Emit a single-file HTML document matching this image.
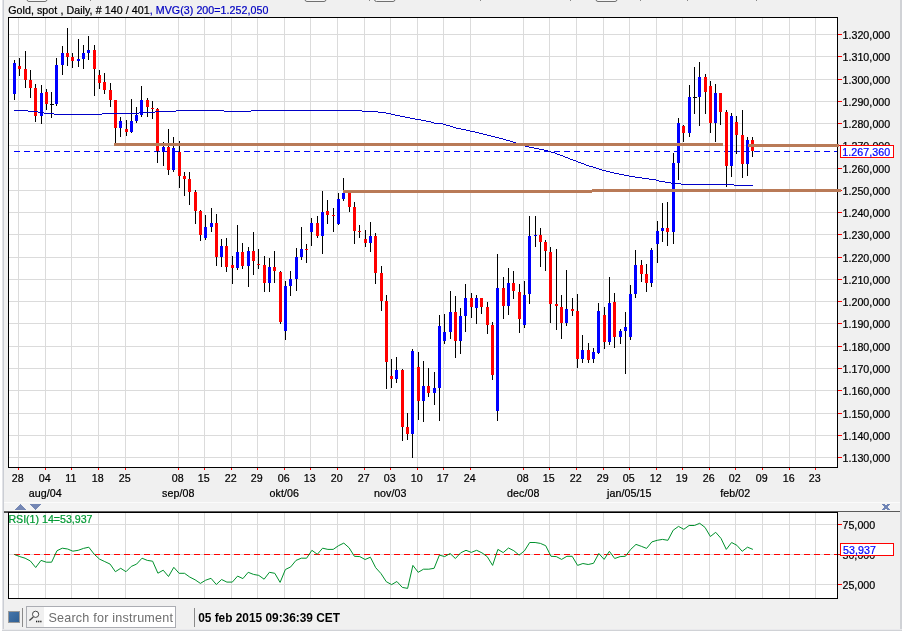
<!DOCTYPE html><html><head><meta charset="utf-8"><title>Gold, spot</title>
<style>
html,body{margin:0;padding:0;background:#fff;}
body{width:907px;height:637px;overflow:hidden;position:relative;font-family:"Liberation Sans",sans-serif;}
svg{position:absolute;left:0;top:0;will-change:transform;}
text{font-family:"Liberation Sans",sans-serif;}
.ax{font-size:10.67px;fill:#000;letter-spacing:0.06px;stroke:#000;stroke-width:0.22px;}
</style></head><body>
<svg width="907" height="637" viewBox="0 0 907 637">
<rect x="2" y="0" width="900" height="631" fill="#f0f0f0"/>
<rect x="2" y="0" width="1" height="631" fill="#e2e3e7"/>
<rect x="3" y="0" width="1" height="631" fill="#cbced4"/>
<rect x="900" y="0" width="2" height="631" fill="#d0d2d6"/>
<rect x="2" y="629" width="900" height="1" fill="#e9e9ec"/>
<rect x="2" y="630" width="900" height="1" fill="#d0d2d6"/>
<rect x="27" y="-3" width="20" height="4.5" rx="2" ry="2" fill="#f4f4f4" stroke="#707070" stroke-width="1"/>
<rect x="305" y="-3" width="21" height="4.5" rx="2" ry="2" fill="#f4f4f4" stroke="#707070" stroke-width="1"/>
<rect x="374.5" y="-3" width="20.5" height="4.5" rx="2" ry="2" fill="#f4f4f4" stroke="#707070" stroke-width="1"/>
<rect x="596" y="-3" width="21" height="4.5" rx="2" ry="2" fill="#f4f4f4" stroke="#707070" stroke-width="1"/>
<rect x="90" y="0" width="1" height="1" fill="#888"/>
<rect x="369" y="0" width="1" height="1" fill="#888"/>
<rect x="480" y="0" width="1" height="1" fill="#888"/>
<rect x="570" y="0" width="1" height="1" fill="#888"/>
<rect x="640" y="0" width="1" height="1" fill="#888"/>
<rect x="687" y="0" width="1" height="1" fill="#888"/>
<rect x="756" y="0" width="1" height="1" fill="#888"/>
<g shape-rendering="crispEdges">
<rect x="8" y="17" width="830" height="451" fill="#fff"/>
<rect x="18" y="18" width="1" height="449" fill="#dbdbdb"/>
<rect x="45" y="18" width="1" height="449" fill="#dbdbdb"/>
<rect x="71" y="18" width="1" height="449" fill="#dbdbdb"/>
<rect x="98" y="18" width="1" height="449" fill="#dbdbdb"/>
<rect x="125" y="18" width="1" height="449" fill="#dbdbdb"/>
<rect x="178" y="18" width="1" height="449" fill="#dbdbdb"/>
<rect x="204" y="18" width="1" height="449" fill="#dbdbdb"/>
<rect x="231" y="18" width="1" height="449" fill="#dbdbdb"/>
<rect x="257" y="18" width="1" height="449" fill="#dbdbdb"/>
<rect x="284" y="18" width="1" height="449" fill="#dbdbdb"/>
<rect x="310" y="18" width="1" height="449" fill="#dbdbdb"/>
<rect x="337" y="18" width="1" height="449" fill="#dbdbdb"/>
<rect x="364" y="18" width="1" height="449" fill="#dbdbdb"/>
<rect x="390" y="18" width="1" height="449" fill="#dbdbdb"/>
<rect x="417" y="18" width="1" height="449" fill="#dbdbdb"/>
<rect x="443" y="18" width="1" height="449" fill="#dbdbdb"/>
<rect x="470" y="18" width="1" height="449" fill="#dbdbdb"/>
<rect x="523" y="18" width="1" height="449" fill="#dbdbdb"/>
<rect x="549" y="18" width="1" height="449" fill="#dbdbdb"/>
<rect x="576" y="18" width="1" height="449" fill="#dbdbdb"/>
<rect x="603" y="18" width="1" height="449" fill="#dbdbdb"/>
<rect x="629" y="18" width="1" height="449" fill="#dbdbdb"/>
<rect x="656" y="18" width="1" height="449" fill="#dbdbdb"/>
<rect x="682" y="18" width="1" height="449" fill="#dbdbdb"/>
<rect x="709" y="18" width="1" height="449" fill="#dbdbdb"/>
<rect x="735" y="18" width="1" height="449" fill="#dbdbdb"/>
<rect x="762" y="18" width="1" height="449" fill="#dbdbdb"/>
<rect x="789" y="18" width="1" height="449" fill="#dbdbdb"/>
<rect x="815" y="18" width="1" height="449" fill="#dbdbdb"/>
<rect x="9" y="34" width="828" height="1" fill="#dbdbdb"/>
<rect x="9" y="56" width="828" height="1" fill="#dbdbdb"/>
<rect x="9" y="79" width="828" height="1" fill="#dbdbdb"/>
<rect x="9" y="101" width="828" height="1" fill="#dbdbdb"/>
<rect x="9" y="123" width="828" height="1" fill="#dbdbdb"/>
<rect x="9" y="145" width="828" height="1" fill="#dbdbdb"/>
<rect x="9" y="168" width="828" height="1" fill="#dbdbdb"/>
<rect x="9" y="190" width="828" height="1" fill="#dbdbdb"/>
<rect x="9" y="212" width="828" height="1" fill="#dbdbdb"/>
<rect x="9" y="234" width="828" height="1" fill="#dbdbdb"/>
<rect x="9" y="257" width="828" height="1" fill="#dbdbdb"/>
<rect x="9" y="279" width="828" height="1" fill="#dbdbdb"/>
<rect x="9" y="301" width="828" height="1" fill="#dbdbdb"/>
<rect x="9" y="323" width="828" height="1" fill="#dbdbdb"/>
<rect x="9" y="346" width="828" height="1" fill="#dbdbdb"/>
<rect x="9" y="368" width="828" height="1" fill="#dbdbdb"/>
<rect x="9" y="390" width="828" height="1" fill="#dbdbdb"/>
<rect x="9" y="413" width="828" height="1" fill="#dbdbdb"/>
<rect x="9" y="435" width="828" height="1" fill="#dbdbdb"/>
<rect x="9" y="457" width="828" height="1" fill="#dbdbdb"/>
<line x1="14" y1="151.5" x2="837" y2="151.5" stroke="#0000ff" stroke-width="1" stroke-dasharray="6 4.005"/>
<rect x="14" y="60" width="1" height="40" fill="#000"/>
<rect x="13" y="63" width="3" height="31" fill="#0000ff"/>
<rect x="19" y="58" width="1" height="18" fill="#000"/>
<rect x="18" y="66" width="3" height="3" fill="#ff0000"/>
<rect x="25" y="51" width="1" height="37" fill="#000"/>
<rect x="24" y="69" width="3" height="11" fill="#ff0000"/>
<rect x="30" y="70" width="1" height="28" fill="#000"/>
<rect x="29" y="80" width="3" height="8" fill="#ff0000"/>
<rect x="35" y="84" width="1" height="38" fill="#000"/>
<rect x="34" y="88" width="3" height="28" fill="#ff0000"/>
<rect x="41" y="85" width="1" height="39" fill="#000"/>
<rect x="40" y="93" width="3" height="23" fill="#0000ff"/>
<rect x="46" y="89" width="1" height="21" fill="#000"/>
<rect x="45" y="92" width="3" height="12" fill="#ff0000"/>
<rect x="51" y="92" width="1" height="26" fill="#000"/>
<rect x="50" y="104" width="4" height="1" fill="#000"/>
<rect x="56" y="58" width="1" height="48" fill="#000"/>
<rect x="55" y="65" width="3" height="39" fill="#0000ff"/>
<rect x="62" y="46" width="1" height="29" fill="#000"/>
<rect x="61" y="53" width="3" height="12" fill="#0000ff"/>
<rect x="67" y="28" width="1" height="38" fill="#000"/>
<rect x="66" y="53" width="3" height="4" fill="#ff0000"/>
<rect x="72" y="53" width="1" height="15" fill="#000"/>
<rect x="71" y="57" width="3" height="4" fill="#ff0000"/>
<rect x="78" y="39" width="1" height="28" fill="#000"/>
<rect x="77" y="59" width="3" height="2" fill="#0000ff"/>
<rect x="83" y="45" width="1" height="24" fill="#000"/>
<rect x="82" y="53" width="3" height="6" fill="#0000ff"/>
<rect x="88" y="36" width="1" height="24" fill="#000"/>
<rect x="87" y="50" width="3" height="3" fill="#0000ff"/>
<rect x="94" y="45" width="1" height="51" fill="#000"/>
<rect x="93" y="50" width="3" height="19" fill="#ff0000"/>
<rect x="99" y="70" width="1" height="19" fill="#000"/>
<rect x="98" y="75" width="3" height="8" fill="#ff0000"/>
<rect x="104" y="73" width="1" height="21" fill="#000"/>
<rect x="103" y="82" width="3" height="8" fill="#ff0000"/>
<rect x="110" y="83" width="1" height="24" fill="#000"/>
<rect x="109" y="90" width="3" height="10" fill="#ff0000"/>
<rect x="115" y="100" width="1" height="43" fill="#000"/>
<rect x="114" y="100" width="3" height="28" fill="#ff0000"/>
<rect x="120" y="117" width="1" height="20" fill="#000"/>
<rect x="119" y="121" width="3" height="7" fill="#0000ff"/>
<rect x="126" y="120" width="1" height="16" fill="#000"/>
<rect x="125" y="129" width="3" height="3" fill="#ff0000"/>
<rect x="131" y="99" width="1" height="34" fill="#000"/>
<rect x="130" y="121" width="3" height="11" fill="#0000ff"/>
<rect x="136" y="107" width="1" height="16" fill="#000"/>
<rect x="135" y="115" width="3" height="6" fill="#0000ff"/>
<rect x="141" y="86" width="1" height="31" fill="#000"/>
<rect x="140" y="100" width="3" height="15" fill="#0000ff"/>
<rect x="147" y="98" width="1" height="19" fill="#000"/>
<rect x="146" y="100" width="3" height="7" fill="#ff0000"/>
<rect x="152" y="101" width="1" height="18" fill="#000"/>
<rect x="151" y="108" width="3" height="1" fill="#ff0000"/>
<rect x="157" y="108" width="1" height="55" fill="#000"/>
<rect x="156" y="109" width="3" height="42" fill="#ff0000"/>
<rect x="163" y="142" width="1" height="24" fill="#000"/>
<rect x="162" y="147" width="3" height="5" fill="#0000ff"/>
<rect x="168" y="129" width="1" height="46" fill="#000"/>
<rect x="167" y="147" width="3" height="23" fill="#ff0000"/>
<rect x="173" y="137" width="1" height="35" fill="#000"/>
<rect x="172" y="148" width="3" height="22" fill="#0000ff"/>
<rect x="179" y="141" width="1" height="47" fill="#000"/>
<rect x="178" y="152" width="3" height="24" fill="#ff0000"/>
<rect x="184" y="172" width="1" height="24" fill="#000"/>
<rect x="183" y="176" width="3" height="3" fill="#ff0000"/>
<rect x="189" y="172" width="1" height="33" fill="#000"/>
<rect x="188" y="179" width="3" height="13" fill="#ff0000"/>
<rect x="195" y="190" width="1" height="34" fill="#000"/>
<rect x="194" y="192" width="3" height="19" fill="#ff0000"/>
<rect x="200" y="210" width="1" height="31" fill="#000"/>
<rect x="199" y="211" width="3" height="24" fill="#ff0000"/>
<rect x="205" y="215" width="1" height="25" fill="#000"/>
<rect x="204" y="227" width="3" height="11" fill="#0000ff"/>
<rect x="211" y="208" width="1" height="24" fill="#000"/>
<rect x="210" y="223" width="3" height="4" fill="#0000ff"/>
<rect x="216" y="214" width="1" height="52" fill="#000"/>
<rect x="215" y="223" width="3" height="34" fill="#ff0000"/>
<rect x="221" y="239" width="1" height="28" fill="#000"/>
<rect x="220" y="246" width="3" height="11" fill="#0000ff"/>
<rect x="226" y="238" width="1" height="34" fill="#000"/>
<rect x="225" y="246" width="3" height="21" fill="#ff0000"/>
<rect x="232" y="256" width="1" height="28" fill="#000"/>
<rect x="231" y="265" width="3" height="3" fill="#ff0000"/>
<rect x="237" y="225" width="1" height="45" fill="#000"/>
<rect x="236" y="252" width="3" height="16" fill="#0000ff"/>
<rect x="242" y="243" width="1" height="26" fill="#000"/>
<rect x="241" y="252" width="3" height="14" fill="#ff0000"/>
<rect x="248" y="247" width="1" height="40" fill="#000"/>
<rect x="247" y="251" width="3" height="15" fill="#0000ff"/>
<rect x="253" y="232" width="1" height="43" fill="#000"/>
<rect x="252" y="251" width="3" height="10" fill="#ff0000"/>
<rect x="258" y="249" width="1" height="20" fill="#000"/>
<rect x="257" y="264" width="3" height="1" fill="#ff0000"/>
<rect x="264" y="256" width="1" height="36" fill="#000"/>
<rect x="263" y="265" width="3" height="18" fill="#ff0000"/>
<rect x="269" y="258" width="1" height="34" fill="#000"/>
<rect x="268" y="267" width="3" height="16" fill="#0000ff"/>
<rect x="274" y="251" width="1" height="32" fill="#000"/>
<rect x="273" y="267" width="3" height="4" fill="#ff0000"/>
<rect x="280" y="271" width="1" height="53" fill="#000"/>
<rect x="279" y="272" width="3" height="50" fill="#ff0000"/>
<rect x="285" y="281" width="1" height="59" fill="#000"/>
<rect x="284" y="286" width="3" height="45" fill="#0000ff"/>
<rect x="290" y="271" width="1" height="25" fill="#000"/>
<rect x="289" y="279" width="3" height="7" fill="#0000ff"/>
<rect x="296" y="248" width="1" height="43" fill="#000"/>
<rect x="295" y="257" width="3" height="22" fill="#0000ff"/>
<rect x="301" y="227" width="1" height="33" fill="#000"/>
<rect x="300" y="249" width="3" height="8" fill="#0000ff"/>
<rect x="306" y="244" width="1" height="19" fill="#000"/>
<rect x="305" y="249" width="3" height="1" fill="#ff0000"/>
<rect x="311" y="218" width="1" height="28" fill="#000"/>
<rect x="310" y="223" width="3" height="9" fill="#0000ff"/>
<rect x="317" y="216" width="1" height="22" fill="#000"/>
<rect x="316" y="223" width="3" height="13" fill="#ff0000"/>
<rect x="322" y="191" width="1" height="63" fill="#000"/>
<rect x="321" y="212" width="3" height="24" fill="#0000ff"/>
<rect x="327" y="200" width="1" height="24" fill="#000"/>
<rect x="326" y="211" width="3" height="4" fill="#ff0000"/>
<rect x="333" y="208" width="1" height="24" fill="#000"/>
<rect x="332" y="215" width="3" height="1" fill="#ff0000"/>
<rect x="338" y="193" width="1" height="32" fill="#000"/>
<rect x="337" y="199" width="3" height="25" fill="#0000ff"/>
<rect x="343" y="178" width="1" height="23" fill="#000"/>
<rect x="342" y="193" width="3" height="6" fill="#0000ff"/>
<rect x="349" y="193" width="1" height="19" fill="#000"/>
<rect x="348" y="193" width="3" height="14" fill="#ff0000"/>
<rect x="354" y="202" width="1" height="42" fill="#000"/>
<rect x="353" y="207" width="3" height="24" fill="#ff0000"/>
<rect x="359" y="225" width="1" height="13" fill="#000"/>
<rect x="358" y="231" width="3" height="1" fill="#ff0000"/>
<rect x="365" y="230" width="1" height="17" fill="#000"/>
<rect x="364" y="239" width="3" height="4" fill="#ff0000"/>
<rect x="370" y="222" width="1" height="30" fill="#000"/>
<rect x="369" y="236" width="3" height="7" fill="#0000ff"/>
<rect x="375" y="233" width="1" height="51" fill="#000"/>
<rect x="374" y="236" width="3" height="37" fill="#ff0000"/>
<rect x="381" y="266" width="1" height="45" fill="#000"/>
<rect x="380" y="273" width="3" height="28" fill="#ff0000"/>
<rect x="386" y="295" width="1" height="94" fill="#000"/>
<rect x="385" y="301" width="3" height="61" fill="#ff0000"/>
<rect x="391" y="359" width="1" height="29" fill="#000"/>
<rect x="390" y="376" width="3" height="3" fill="#ff0000"/>
<rect x="396" y="357" width="1" height="26" fill="#000"/>
<rect x="395" y="370" width="3" height="9" fill="#0000ff"/>
<rect x="402" y="369" width="1" height="72" fill="#000"/>
<rect x="401" y="370" width="3" height="57" fill="#ff0000"/>
<rect x="407" y="413" width="1" height="27" fill="#000"/>
<rect x="406" y="427" width="3" height="7" fill="#ff0000"/>
<rect x="412" y="349" width="1" height="109" fill="#000"/>
<rect x="411" y="351" width="3" height="83" fill="#0000ff"/>
<rect x="418" y="352" width="1" height="68" fill="#000"/>
<rect x="417" y="367" width="3" height="34" fill="#ff0000"/>
<rect x="423" y="361" width="1" height="61" fill="#000"/>
<rect x="422" y="386" width="3" height="15" fill="#0000ff"/>
<rect x="428" y="368" width="1" height="29" fill="#000"/>
<rect x="427" y="386" width="3" height="7" fill="#ff0000"/>
<rect x="434" y="372" width="1" height="33" fill="#000"/>
<rect x="433" y="388" width="3" height="5" fill="#0000ff"/>
<rect x="439" y="315" width="1" height="106" fill="#000"/>
<rect x="438" y="326" width="3" height="62" fill="#0000ff"/>
<rect x="444" y="314" width="1" height="30" fill="#000"/>
<rect x="443" y="332" width="3" height="9" fill="#0000ff"/>
<rect x="450" y="291" width="1" height="48" fill="#000"/>
<rect x="449" y="312" width="3" height="20" fill="#0000ff"/>
<rect x="455" y="296" width="1" height="62" fill="#000"/>
<rect x="454" y="312" width="3" height="29" fill="#ff0000"/>
<rect x="460" y="308" width="1" height="46" fill="#000"/>
<rect x="459" y="316" width="3" height="25" fill="#0000ff"/>
<rect x="465" y="284" width="1" height="48" fill="#000"/>
<rect x="464" y="298" width="3" height="18" fill="#0000ff"/>
<rect x="471" y="293" width="1" height="25" fill="#000"/>
<rect x="470" y="298" width="3" height="9" fill="#ff0000"/>
<rect x="476" y="295" width="1" height="29" fill="#000"/>
<rect x="475" y="298" width="3" height="10" fill="#0000ff"/>
<rect x="481" y="298" width="1" height="16" fill="#000"/>
<rect x="480" y="298" width="3" height="9" fill="#ff0000"/>
<rect x="487" y="302" width="1" height="32" fill="#000"/>
<rect x="486" y="307" width="3" height="18" fill="#ff0000"/>
<rect x="492" y="322" width="1" height="58" fill="#000"/>
<rect x="491" y="325" width="3" height="50" fill="#ff0000"/>
<rect x="497" y="254" width="1" height="167" fill="#000"/>
<rect x="496" y="288" width="3" height="123" fill="#0000ff"/>
<rect x="503" y="277" width="1" height="42" fill="#000"/>
<rect x="502" y="288" width="3" height="18" fill="#ff0000"/>
<rect x="508" y="268" width="1" height="47" fill="#000"/>
<rect x="507" y="283" width="3" height="23" fill="#0000ff"/>
<rect x="513" y="271" width="1" height="28" fill="#000"/>
<rect x="512" y="283" width="3" height="8" fill="#ff0000"/>
<rect x="519" y="284" width="1" height="49" fill="#000"/>
<rect x="518" y="292" width="3" height="27" fill="#ff0000"/>
<rect x="524" y="281" width="1" height="47" fill="#000"/>
<rect x="523" y="295" width="3" height="30" fill="#0000ff"/>
<rect x="529" y="216" width="1" height="88" fill="#000"/>
<rect x="528" y="236" width="3" height="58" fill="#0000ff"/>
<rect x="535" y="216" width="1" height="31" fill="#000"/>
<rect x="534" y="235" width="3" height="1" fill="#0000ff"/>
<rect x="540" y="228" width="1" height="39" fill="#000"/>
<rect x="539" y="235" width="3" height="7" fill="#ff0000"/>
<rect x="545" y="240" width="1" height="31" fill="#000"/>
<rect x="544" y="242" width="3" height="9" fill="#ff0000"/>
<rect x="550" y="247" width="1" height="76" fill="#000"/>
<rect x="549" y="252" width="3" height="52" fill="#ff0000"/>
<rect x="556" y="249" width="1" height="81" fill="#000"/>
<rect x="555" y="304" width="3" height="2" fill="#ff0000"/>
<rect x="561" y="295" width="1" height="44" fill="#000"/>
<rect x="560" y="307" width="3" height="16" fill="#ff0000"/>
<rect x="566" y="270" width="1" height="56" fill="#000"/>
<rect x="565" y="309" width="3" height="14" fill="#0000ff"/>
<rect x="572" y="298" width="1" height="18" fill="#000"/>
<rect x="571" y="309" width="3" height="2" fill="#ff0000"/>
<rect x="577" y="294" width="1" height="74" fill="#000"/>
<rect x="576" y="311" width="3" height="48" fill="#ff0000"/>
<rect x="582" y="335" width="1" height="28" fill="#000"/>
<rect x="581" y="350" width="3" height="9" fill="#0000ff"/>
<rect x="588" y="343" width="1" height="20" fill="#000"/>
<rect x="587" y="350" width="3" height="10" fill="#ff0000"/>
<rect x="593" y="348" width="1" height="15" fill="#000"/>
<rect x="592" y="352" width="3" height="7" fill="#0000ff"/>
<rect x="598" y="303" width="1" height="51" fill="#000"/>
<rect x="597" y="311" width="3" height="42" fill="#0000ff"/>
<rect x="604" y="307" width="1" height="42" fill="#000"/>
<rect x="603" y="315" width="3" height="27" fill="#ff0000"/>
<rect x="609" y="277" width="1" height="68" fill="#000"/>
<rect x="608" y="303" width="3" height="39" fill="#0000ff"/>
<rect x="614" y="293" width="1" height="55" fill="#000"/>
<rect x="613" y="302" width="3" height="35" fill="#ff0000"/>
<rect x="620" y="329" width="1" height="15" fill="#000"/>
<rect x="619" y="331" width="3" height="6" fill="#0000ff"/>
<rect x="625" y="312" width="1" height="62" fill="#000"/>
<rect x="624" y="327" width="3" height="4" fill="#0000ff"/>
<rect x="630" y="285" width="1" height="55" fill="#000"/>
<rect x="629" y="294" width="3" height="43" fill="#0000ff"/>
<rect x="635" y="250" width="1" height="48" fill="#000"/>
<rect x="634" y="265" width="3" height="29" fill="#0000ff"/>
<rect x="641" y="260" width="1" height="22" fill="#000"/>
<rect x="640" y="265" width="3" height="9" fill="#ff0000"/>
<rect x="646" y="264" width="1" height="28" fill="#000"/>
<rect x="645" y="274" width="3" height="9" fill="#ff0000"/>
<rect x="651" y="248" width="1" height="39" fill="#000"/>
<rect x="650" y="250" width="3" height="33" fill="#0000ff"/>
<rect x="657" y="221" width="1" height="42" fill="#000"/>
<rect x="656" y="231" width="3" height="13" fill="#0000ff"/>
<rect x="662" y="203" width="1" height="39" fill="#000"/>
<rect x="661" y="228" width="3" height="3" fill="#0000ff"/>
<rect x="667" y="202" width="1" height="44" fill="#000"/>
<rect x="666" y="228" width="3" height="4" fill="#ff0000"/>
<rect x="673" y="153" width="1" height="91" fill="#000"/>
<rect x="672" y="163" width="3" height="69" fill="#0000ff"/>
<rect x="678" y="118" width="1" height="62" fill="#000"/>
<rect x="677" y="123" width="3" height="40" fill="#0000ff"/>
<rect x="683" y="125" width="1" height="17" fill="#000"/>
<rect x="682" y="126" width="3" height="7" fill="#ff0000"/>
<rect x="689" y="85" width="1" height="52" fill="#000"/>
<rect x="688" y="97" width="3" height="36" fill="#0000ff"/>
<rect x="694" y="67" width="1" height="47" fill="#000"/>
<rect x="693" y="97" width="4" height="1" fill="#000"/>
<rect x="699" y="62" width="1" height="64" fill="#000"/>
<rect x="698" y="77" width="3" height="20" fill="#0000ff"/>
<rect x="705" y="74" width="1" height="40" fill="#000"/>
<rect x="704" y="77" width="3" height="15" fill="#ff0000"/>
<rect x="710" y="81" width="1" height="52" fill="#000"/>
<rect x="709" y="86" width="3" height="37" fill="#ff0000"/>
<rect x="715" y="84" width="1" height="58" fill="#000"/>
<rect x="714" y="93" width="3" height="30" fill="#0000ff"/>
<rect x="720" y="93" width="1" height="32" fill="#000"/>
<rect x="719" y="93" width="3" height="19" fill="#ff0000"/>
<rect x="726" y="110" width="1" height="77" fill="#000"/>
<rect x="725" y="112" width="3" height="54" fill="#ff0000"/>
<rect x="731" y="113" width="1" height="64" fill="#000"/>
<rect x="730" y="116" width="3" height="50" fill="#0000ff"/>
<rect x="736" y="116" width="1" height="38" fill="#000"/>
<rect x="735" y="122" width="3" height="13" fill="#ff0000"/>
<rect x="742" y="110" width="1" height="68" fill="#000"/>
<rect x="741" y="135" width="3" height="29" fill="#ff0000"/>
<rect x="747" y="137" width="1" height="39" fill="#000"/>
<rect x="746" y="140" width="3" height="24" fill="#0000ff"/>
<rect x="752" y="137" width="1" height="20" fill="#000"/>
<rect x="751" y="140" width="3" height="11" fill="#ff0000"/>
<rect x="14" y="110" width="14" height="1" fill="#0000c8"/>
<rect x="28" y="111" width="10" height="1" fill="#0000c8"/>
<rect x="38" y="112" width="6" height="1" fill="#0000c8"/>
<rect x="44" y="113" width="10" height="1" fill="#0000c8"/>
<rect x="54" y="114" width="48" height="1" fill="#0000c8"/>
<rect x="102" y="113" width="37" height="1" fill="#0000c8"/>
<rect x="139" y="112" width="16" height="1" fill="#0000c8"/>
<rect x="155" y="111" width="21" height="1" fill="#0000c8"/>
<rect x="176" y="110" width="48" height="1" fill="#0000c8"/>
<rect x="224" y="111" width="27" height="1" fill="#0000c8"/>
<rect x="251" y="110" width="111" height="1" fill="#0000c8"/>
<rect x="362" y="111" width="16" height="1" fill="#0000c8"/>
<rect x="378" y="112" width="8" height="1" fill="#0000c8"/>
<rect x="386" y="113" width="5" height="1" fill="#0000c8"/>
<rect x="391" y="114" width="4" height="1" fill="#0000c8"/>
<rect x="395" y="115" width="5" height="1" fill="#0000c8"/>
<rect x="400" y="116" width="5" height="1" fill="#0000c8"/>
<rect x="405" y="117" width="5" height="1" fill="#0000c8"/>
<rect x="410" y="118" width="5" height="1" fill="#0000c8"/>
<rect x="415" y="119" width="6" height="1" fill="#0000c8"/>
<rect x="421" y="120" width="5" height="1" fill="#0000c8"/>
<rect x="426" y="121" width="5" height="1" fill="#0000c8"/>
<rect x="431" y="122" width="3" height="1" fill="#0000c8"/>
<rect x="434" y="123" width="9" height="1" fill="#0000c8"/>
<rect x="443" y="124" width="3" height="1" fill="#0000c8"/>
<rect x="446" y="125" width="4" height="1" fill="#0000c8"/>
<rect x="450" y="126" width="3" height="1" fill="#0000c8"/>
<rect x="453" y="127" width="3" height="1" fill="#0000c8"/>
<rect x="456" y="128" width="5" height="1" fill="#0000c8"/>
<rect x="461" y="129" width="5" height="1" fill="#0000c8"/>
<rect x="466" y="130" width="4" height="1" fill="#0000c8"/>
<rect x="470" y="131" width="5" height="1" fill="#0000c8"/>
<rect x="475" y="132" width="4" height="1" fill="#0000c8"/>
<rect x="479" y="133" width="4" height="1" fill="#0000c8"/>
<rect x="483" y="134" width="4" height="1" fill="#0000c8"/>
<rect x="487" y="135" width="4" height="1" fill="#0000c8"/>
<rect x="491" y="136" width="4" height="1" fill="#0000c8"/>
<rect x="495" y="137" width="4" height="1" fill="#0000c8"/>
<rect x="499" y="138" width="4" height="1" fill="#0000c8"/>
<rect x="503" y="139" width="3" height="1" fill="#0000c8"/>
<rect x="506" y="140" width="4" height="1" fill="#0000c8"/>
<rect x="510" y="141" width="3" height="1" fill="#0000c8"/>
<rect x="513" y="142" width="3" height="1" fill="#0000c8"/>
<rect x="516" y="143" width="3" height="1" fill="#0000c8"/>
<rect x="519" y="144" width="3" height="1" fill="#0000c8"/>
<rect x="522" y="145" width="3" height="1" fill="#0000c8"/>
<rect x="525" y="146" width="4" height="1" fill="#0000c8"/>
<rect x="529" y="147" width="5" height="1" fill="#0000c8"/>
<rect x="534" y="148" width="5" height="1" fill="#0000c8"/>
<rect x="539" y="149" width="5" height="1" fill="#0000c8"/>
<rect x="544" y="150" width="4" height="1" fill="#0000c8"/>
<rect x="548" y="151" width="3" height="1" fill="#0000c8"/>
<rect x="551" y="152" width="4" height="1" fill="#0000c8"/>
<rect x="555" y="153" width="2" height="1" fill="#0000c8"/>
<rect x="557" y="154" width="3" height="1" fill="#0000c8"/>
<rect x="560" y="155" width="3" height="1" fill="#0000c8"/>
<rect x="563" y="156" width="2" height="1" fill="#0000c8"/>
<rect x="565" y="157" width="3" height="1" fill="#0000c8"/>
<rect x="568" y="158" width="2" height="1" fill="#0000c8"/>
<rect x="570" y="159" width="3" height="1" fill="#0000c8"/>
<rect x="573" y="160" width="3" height="1" fill="#0000c8"/>
<rect x="576" y="161" width="2" height="1" fill="#0000c8"/>
<rect x="578" y="162" width="3" height="1" fill="#0000c8"/>
<rect x="581" y="163" width="3" height="1" fill="#0000c8"/>
<rect x="584" y="164" width="2" height="1" fill="#0000c8"/>
<rect x="586" y="165" width="3" height="1" fill="#0000c8"/>
<rect x="589" y="166" width="4" height="1" fill="#0000c8"/>
<rect x="593" y="167" width="3" height="1" fill="#0000c8"/>
<rect x="596" y="168" width="3" height="1" fill="#0000c8"/>
<rect x="599" y="169" width="3" height="1" fill="#0000c8"/>
<rect x="602" y="170" width="4" height="1" fill="#0000c8"/>
<rect x="606" y="171" width="4" height="1" fill="#0000c8"/>
<rect x="610" y="172" width="4" height="1" fill="#0000c8"/>
<rect x="614" y="173" width="5" height="1" fill="#0000c8"/>
<rect x="619" y="174" width="5" height="1" fill="#0000c8"/>
<rect x="624" y="175" width="5" height="1" fill="#0000c8"/>
<rect x="629" y="176" width="6" height="1" fill="#0000c8"/>
<rect x="635" y="177" width="7" height="1" fill="#0000c8"/>
<rect x="642" y="178" width="7" height="1" fill="#0000c8"/>
<rect x="649" y="179" width="7" height="1" fill="#0000c8"/>
<rect x="656" y="180" width="3" height="1" fill="#0000c8"/>
<rect x="659" y="181" width="6" height="1" fill="#0000c8"/>
<rect x="665" y="182" width="6" height="1" fill="#0000c8"/>
<rect x="671" y="183" width="10" height="1" fill="#0000c8"/>
<rect x="681" y="184" width="53" height="1" fill="#0000c8"/>
<rect x="734" y="185" width="19" height="1" fill="#0000c8"/>
<rect x="8" y="17" width="830" height="1" fill="#000"/>
<rect x="8" y="467" width="830" height="1" fill="#000"/>
<rect x="8" y="17" width="1" height="451" fill="#000"/>
<rect x="837" y="17" width="1" height="451" fill="#000"/>
<rect x="838" y="34" width="4" height="1" fill="#ff0000"/>
<rect x="838" y="56" width="4" height="1" fill="#ff0000"/>
<rect x="838" y="79" width="4" height="1" fill="#ff0000"/>
<rect x="838" y="101" width="4" height="1" fill="#ff0000"/>
<rect x="838" y="123" width="4" height="1" fill="#ff0000"/>
<rect x="838" y="145" width="4" height="1" fill="#ff0000"/>
<rect x="838" y="168" width="4" height="1" fill="#ff0000"/>
<rect x="838" y="190" width="4" height="1" fill="#ff0000"/>
<rect x="838" y="212" width="4" height="1" fill="#ff0000"/>
<rect x="838" y="234" width="4" height="1" fill="#ff0000"/>
<rect x="838" y="257" width="4" height="1" fill="#ff0000"/>
<rect x="838" y="279" width="4" height="1" fill="#ff0000"/>
<rect x="838" y="301" width="4" height="1" fill="#ff0000"/>
<rect x="838" y="323" width="4" height="1" fill="#ff0000"/>
<rect x="838" y="346" width="4" height="1" fill="#ff0000"/>
<rect x="838" y="368" width="4" height="1" fill="#ff0000"/>
<rect x="838" y="390" width="4" height="1" fill="#ff0000"/>
<rect x="838" y="413" width="4" height="1" fill="#ff0000"/>
<rect x="838" y="435" width="4" height="1" fill="#ff0000"/>
<rect x="838" y="457" width="4" height="1" fill="#ff0000"/>
<rect x="18" y="468" width="1" height="2" fill="#ff0000"/>
<rect x="45" y="468" width="1" height="2" fill="#ff0000"/>
<rect x="71" y="468" width="1" height="2" fill="#ff0000"/>
<rect x="98" y="468" width="1" height="2" fill="#ff0000"/>
<rect x="125" y="468" width="1" height="2" fill="#ff0000"/>
<rect x="178" y="468" width="1" height="2" fill="#ff0000"/>
<rect x="204" y="468" width="1" height="2" fill="#ff0000"/>
<rect x="231" y="468" width="1" height="2" fill="#ff0000"/>
<rect x="257" y="468" width="1" height="2" fill="#ff0000"/>
<rect x="284" y="468" width="1" height="2" fill="#ff0000"/>
<rect x="310" y="468" width="1" height="2" fill="#ff0000"/>
<rect x="337" y="468" width="1" height="2" fill="#ff0000"/>
<rect x="364" y="468" width="1" height="2" fill="#ff0000"/>
<rect x="390" y="468" width="1" height="2" fill="#ff0000"/>
<rect x="417" y="468" width="1" height="2" fill="#ff0000"/>
<rect x="443" y="468" width="1" height="2" fill="#ff0000"/>
<rect x="470" y="468" width="1" height="2" fill="#ff0000"/>
<rect x="523" y="468" width="1" height="2" fill="#ff0000"/>
<rect x="549" y="468" width="1" height="2" fill="#ff0000"/>
<rect x="576" y="468" width="1" height="2" fill="#ff0000"/>
<rect x="603" y="468" width="1" height="2" fill="#ff0000"/>
<rect x="629" y="468" width="1" height="2" fill="#ff0000"/>
<rect x="656" y="468" width="1" height="2" fill="#ff0000"/>
<rect x="682" y="468" width="1" height="2" fill="#ff0000"/>
<rect x="709" y="468" width="1" height="2" fill="#ff0000"/>
<rect x="735" y="468" width="1" height="2" fill="#ff0000"/>
<rect x="762" y="468" width="1" height="2" fill="#ff0000"/>
<rect x="789" y="468" width="1" height="2" fill="#ff0000"/>
<rect x="815" y="468" width="1" height="2" fill="#ff0000"/>
<rect x="114" y="143" width="609" height="3" fill="#b97a57"/>
<rect x="748" y="144" width="91" height="3" fill="#b97a57"/>
<rect x="343" y="190" width="249" height="3" fill="#b97a57"/>
<rect x="592" y="189" width="249" height="3" fill="#b97a57"/>
<rect x="4" y="502" width="896" height="1" fill="#fbfbfb"/>
<rect x="4" y="503" width="896" height="8" fill="#f3f3f3"/>
<rect x="4" y="511" width="896" height="1" fill="#5a5a5a"/>
<rect x="8" y="512" width="830" height="87" fill="#fff"/>
<rect x="18" y="513" width="1" height="85" fill="#dbdbdb"/>
<rect x="45" y="513" width="1" height="85" fill="#dbdbdb"/>
<rect x="71" y="513" width="1" height="85" fill="#dbdbdb"/>
<rect x="98" y="513" width="1" height="85" fill="#dbdbdb"/>
<rect x="125" y="513" width="1" height="85" fill="#dbdbdb"/>
<rect x="178" y="513" width="1" height="85" fill="#dbdbdb"/>
<rect x="204" y="513" width="1" height="85" fill="#dbdbdb"/>
<rect x="231" y="513" width="1" height="85" fill="#dbdbdb"/>
<rect x="257" y="513" width="1" height="85" fill="#dbdbdb"/>
<rect x="284" y="513" width="1" height="85" fill="#dbdbdb"/>
<rect x="310" y="513" width="1" height="85" fill="#dbdbdb"/>
<rect x="337" y="513" width="1" height="85" fill="#dbdbdb"/>
<rect x="364" y="513" width="1" height="85" fill="#dbdbdb"/>
<rect x="390" y="513" width="1" height="85" fill="#dbdbdb"/>
<rect x="417" y="513" width="1" height="85" fill="#dbdbdb"/>
<rect x="443" y="513" width="1" height="85" fill="#dbdbdb"/>
<rect x="470" y="513" width="1" height="85" fill="#dbdbdb"/>
<rect x="523" y="513" width="1" height="85" fill="#dbdbdb"/>
<rect x="549" y="513" width="1" height="85" fill="#dbdbdb"/>
<rect x="576" y="513" width="1" height="85" fill="#dbdbdb"/>
<rect x="603" y="513" width="1" height="85" fill="#dbdbdb"/>
<rect x="629" y="513" width="1" height="85" fill="#dbdbdb"/>
<rect x="656" y="513" width="1" height="85" fill="#dbdbdb"/>
<rect x="682" y="513" width="1" height="85" fill="#dbdbdb"/>
<rect x="709" y="513" width="1" height="85" fill="#dbdbdb"/>
<rect x="735" y="513" width="1" height="85" fill="#dbdbdb"/>
<rect x="762" y="513" width="1" height="85" fill="#dbdbdb"/>
<rect x="789" y="513" width="1" height="85" fill="#dbdbdb"/>
<rect x="815" y="513" width="1" height="85" fill="#dbdbdb"/>
<rect x="9" y="524" width="828" height="1" fill="#dbdbdb"/>
<rect x="838" y="524" width="4" height="1" fill="#ff0000"/>
<rect x="9" y="554" width="828" height="1" fill="#dbdbdb"/>
<rect x="838" y="554" width="4" height="1" fill="#ff0000"/>
<rect x="9" y="584" width="828" height="1" fill="#dbdbdb"/>
<rect x="838" y="584" width="4" height="1" fill="#ff0000"/>
<line x1="14" y1="554.5" x2="837" y2="554.5" stroke="#ff0000" stroke-width="1" stroke-dasharray="6 4.005"/>
</g>
<polyline points="14.5,554.5 19.8,556.6 25.1,558.2 30.4,561.0 35.7,567.5 41.0,560.4 46.3,562.2 51.6,562.2 57.0,550.7 62.3,548.2 67.6,549.0 72.9,551.2 78.2,550.3 83.5,548.4 88.8,547.2 94.1,554.1 99.5,559.1 104.8,561.6 110.1,564.1 115.4,571.7 120.7,568.3 126.0,571.7 131.3,566.4 136.6,564.1 142.0,558.2 147.3,560.4 152.6,561.2 157.9,573.2 163.2,570.2 168.5,576.5 173.8,567.3 179.1,573.3 184.5,573.3 189.8,577.1 195.1,579.8 200.4,583.4 205.7,580.2 211.0,578.3 216.3,584.5 221.6,579.5 226.9,582.1 232.3,582.1 237.6,576.1 242.9,578.6 248.2,572.3 253.5,574.4 258.8,575.4 264.1,579.2 269.4,572.3 274.8,573.3 280.1,582.4 285.4,569.5 290.7,566.9 296.0,560.4 301.3,558.2 306.6,558.2 311.9,550.3 317.3,554.3 322.6,548.2 327.9,549.4 333.2,549.4 338.5,545.7 343.8,543.1 349.1,547.8 354.4,556.3 359.8,556.6 365.1,559.5 370.4,557.2 375.7,567.7 381.0,573.6 386.3,581.7 391.6,584.6 396.9,581.5 402.3,587.4 407.6,588.4 412.9,565.4 418.2,572.3 423.5,569.2 428.8,569.2 434.1,568.3 439.4,555.1 444.7,556.6 450.1,553.5 455.4,558.5 460.7,552.8 466.0,550.3 471.3,552.4 476.6,550.3 481.9,552.8 487.2,556.6 492.6,565.4 497.9,549.4 503.2,552.6 508.5,548.0 513.8,550.7 519.1,555.1 524.4,550.9 529.7,542.5 535.1,542.5 540.4,543.4 545.7,545.7 551.0,556.3 556.3,556.6 561.6,559.4 566.9,556.3 572.2,556.3 577.6,565.4 582.9,563.5 588.2,564.5 593.5,563.3 598.8,553.5 604.1,559.4 609.4,551.3 614.7,558.5 620.1,556.6 625.4,556.3 630.7,549.4 636.0,544.4 641.3,546.3 646.6,548.4 651.9,541.9 657.2,540.3 662.5,539.4 667.9,540.3 673.2,530.2 678.5,526.4 683.8,529.3 689.1,525.5 694.4,525.5 699.7,523.3 705.0,527.4 710.4,536.5 715.7,532.3 721.0,538.4 726.3,549.4 731.6,542.5 736.9,545.3 742.2,551.3 747.5,547.2 752.9,549.4" fill="none" stroke="#00912c" stroke-width="1" stroke-linejoin="round"/>
<g shape-rendering="crispEdges">
<rect x="8" y="512" width="830" height="1" fill="#000"/>
<rect x="4" y="512" width="4" height="1" fill="#444"/>
<rect x="8" y="598" width="830" height="1" fill="#000"/>
<rect x="8" y="512" width="1" height="87" fill="#000"/>
<rect x="837" y="512" width="1" height="87" fill="#000"/>
</g>
<text x="8.2" y="14" class="ax">Gold, spot , Daily, # 140 / 401<tspan style="fill:#0000c2;stroke:#0000c2">, MVG(3) 200=1.252,050</tspan></text>
<text x="842.4" y="39.2" class="ax">1.320,000</text>
<text x="842.4" y="61.2" class="ax">1.310,000</text>
<text x="842.4" y="84.2" class="ax">1.300,000</text>
<text x="842.4" y="106.2" class="ax">1.290,000</text>
<text x="842.4" y="128.2" class="ax">1.280,000</text>
<text x="842.4" y="150.2" class="ax">1.270,000</text>
<text x="842.4" y="173.2" class="ax">1.260,000</text>
<text x="842.4" y="195.2" class="ax">1.250,000</text>
<text x="842.4" y="217.2" class="ax">1.240,000</text>
<text x="842.4" y="239.2" class="ax">1.230,000</text>
<text x="842.4" y="262.2" class="ax">1.220,000</text>
<text x="842.4" y="284.2" class="ax">1.210,000</text>
<text x="842.4" y="306.2" class="ax">1.200,000</text>
<text x="842.4" y="328.2" class="ax">1.190,000</text>
<text x="842.4" y="351.2" class="ax">1.180,000</text>
<text x="842.4" y="373.2" class="ax">1.170,000</text>
<text x="842.4" y="395.2" class="ax">1.160,000</text>
<text x="842.4" y="418.2" class="ax">1.150,000</text>
<text x="842.4" y="440.2" class="ax">1.140,000</text>
<text x="842.4" y="462.2" class="ax">1.130,000</text>
<g shape-rendering="crispEdges"><rect x="840.5" y="145.5" width="53" height="12" fill="#fff" stroke="#ff0000" stroke-width="1"/></g>
<text x="842.2" y="155.8" class="ax" style="fill:#0000ff;stroke:#0000ff">1.267,360</text>
<text x="17.8" y="482" class="ax" text-anchor="middle">28</text>
<text x="44.8" y="482" class="ax" text-anchor="middle">04</text>
<text x="70.8" y="482" class="ax" text-anchor="middle">11</text>
<text x="97.8" y="482" class="ax" text-anchor="middle">18</text>
<text x="124.8" y="482" class="ax" text-anchor="middle">25</text>
<text x="177.8" y="482" class="ax" text-anchor="middle">08</text>
<text x="203.8" y="482" class="ax" text-anchor="middle">15</text>
<text x="230.8" y="482" class="ax" text-anchor="middle">22</text>
<text x="256.8" y="482" class="ax" text-anchor="middle">29</text>
<text x="283.8" y="482" class="ax" text-anchor="middle">06</text>
<text x="309.8" y="482" class="ax" text-anchor="middle">13</text>
<text x="336.8" y="482" class="ax" text-anchor="middle">20</text>
<text x="363.8" y="482" class="ax" text-anchor="middle">27</text>
<text x="389.8" y="482" class="ax" text-anchor="middle">03</text>
<text x="416.8" y="482" class="ax" text-anchor="middle">10</text>
<text x="442.8" y="482" class="ax" text-anchor="middle">17</text>
<text x="469.8" y="482" class="ax" text-anchor="middle">24</text>
<text x="522.8" y="482" class="ax" text-anchor="middle">08</text>
<text x="548.8" y="482" class="ax" text-anchor="middle">15</text>
<text x="575.8" y="482" class="ax" text-anchor="middle">22</text>
<text x="602.8" y="482" class="ax" text-anchor="middle">29</text>
<text x="628.8" y="482" class="ax" text-anchor="middle">05</text>
<text x="655.8" y="482" class="ax" text-anchor="middle">12</text>
<text x="681.8" y="482" class="ax" text-anchor="middle">19</text>
<text x="708.8" y="482" class="ax" text-anchor="middle">26</text>
<text x="734.8" y="482" class="ax" text-anchor="middle">02</text>
<text x="761.8" y="482" class="ax" text-anchor="middle">09</text>
<text x="788.8" y="482" class="ax" text-anchor="middle">16</text>
<text x="814.8" y="482" class="ax" text-anchor="middle">23</text>
<text x="45.3" y="497.3" class="ax" text-anchor="middle">aug/04</text>
<text x="178.3" y="497.3" class="ax" text-anchor="middle">sep/08</text>
<text x="284.3" y="497.3" class="ax" text-anchor="middle">okt/06</text>
<text x="390.3" y="497.3" class="ax" text-anchor="middle">nov/03</text>
<text x="523.3" y="497.3" class="ax" text-anchor="middle">dec/08</text>
<text x="629.3" y="497.3" class="ax" text-anchor="middle">jan/05/15</text>
<text x="735.3" y="497.3" class="ax" text-anchor="middle">feb/02</text>
<text x="8.4" y="523.3" class="ax" style="fill:#009933;stroke:#009933;letter-spacing:-0.02px">RSI(1) 14=53,937</text>
<text x="842.4" y="529.2" class="ax">75,000</text>
<text x="842.4" y="559.2" class="ax">50,000</text>
<text x="842.4" y="589.2" class="ax">25,000</text>
<g shape-rendering="crispEdges"><rect x="840.5" y="543.5" width="53" height="12" fill="#fff" stroke="#ff0000" stroke-width="1"/></g>
<text x="843" y="553.8" class="ax" style="fill:#0000ff;stroke:#0000ff">53,937</text>
<g shape-rendering="crispEdges" fill="#7587b4">
<rect x="20" y="504" width="1" height="1"/>
<rect x="30" y="504" width="11" height="1"/>
<rect x="19" y="505" width="3" height="1"/>
<rect x="31" y="505" width="9" height="1"/>
<rect x="18" y="506" width="5" height="1"/>
<rect x="32" y="506" width="7" height="1"/>
<rect x="17" y="507" width="7" height="1"/>
<rect x="33" y="507" width="5" height="1"/>
<rect x="16" y="508" width="9" height="1"/>
<rect x="34" y="508" width="3" height="1"/>
<rect x="15" y="509" width="11" height="1"/>
<rect x="35" y="509" width="1" height="1"/>
</g>
<g shape-rendering="crispEdges" fill="#7085b6">
<rect x="882" y="504" width="3" height="1"/>
<rect x="887" y="504" width="3" height="1"/>
<rect x="883" y="505" width="6" height="1"/>
<rect x="884" y="506" width="4" height="1"/>
<rect x="884" y="507" width="4" height="1"/>
<rect x="883" y="508" width="6" height="1"/>
<rect x="882" y="509" width="3" height="1"/>
<rect x="887" y="509" width="3" height="1"/>
</g>
<defs><linearGradient id="bl" x1="0" y1="0" x2="1" y2="1"><stop offset="0" stop-color="#4676ab"/><stop offset="1" stop-color="#2f5f93"/></linearGradient></defs>
<g shape-rendering="crispEdges">
<rect x="8.5" y="611.5" width="11" height="11" fill="url(#bl)" stroke="#9a9a9a" stroke-width="1"/>
<rect x="22" y="608" width="1" height="19" fill="#8a8a8a"/>
<rect x="26.5" y="606.5" width="149" height="21" fill="#fff" stroke="#abadb3" stroke-width="1"/>
<rect x="27" y="607" width="17" height="20" fill="#f0f0f0"/>
<rect x="194" y="608" width="1" height="19" fill="#8a8a8a"/>
</g>
<circle cx="35.6" cy="614.3" r="3.1" fill="#fafafa" stroke="#444" stroke-width="1"/>
<path d="M33.3 616.9 L29.4 620.4" stroke="#444" stroke-width="1.3" fill="none"/>
<g><rect x="36" y="620.7" width="1.3" height="1.6" fill="#222"/><rect x="38.1" y="620.7" width="1.3" height="1.6" fill="#222"/><rect x="40.2" y="620.7" width="1.3" height="1.6" fill="#222"/></g>
<text x="48.4" y="621.8" style="font-size:12.6px;fill:#6e6e6e;letter-spacing:0.21px">Search for instrument</text>
<text x="198.2" y="621.8" style="font-size:11.86px;font-weight:bold;fill:#000">05 feb 2015 09:36:39 CET</text>
</svg></body></html>
